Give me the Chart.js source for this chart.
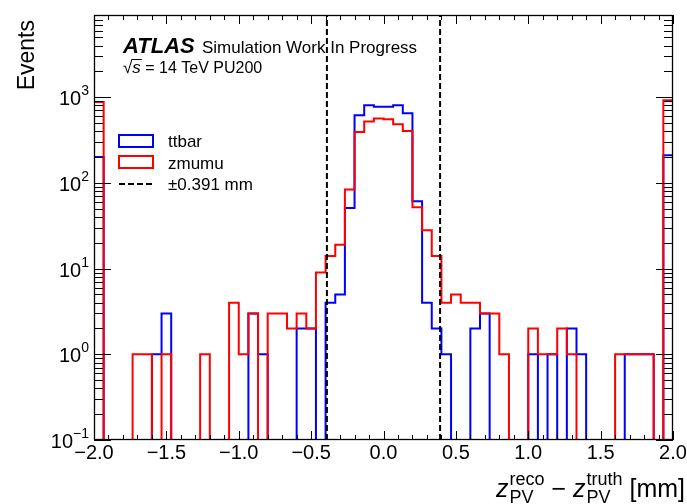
<!DOCTYPE html>
<html>
<head>
<meta charset="utf-8">
<script src="https://cdn.jsdelivr.net/npm/chart.js@4.4.0/dist/chart.umd.min.js"></script>
<style>
  body { margin: 0; background: #fff; }
  canvas { display: block; }
</style>
</head>
<body>
<canvas id="vtxChart" width="687" height="504"></canvas>
<script>
// 60 bins of 1/15 mm between -2 and 2 mm, first/last bins hold the tails
const xMin = -2;
const xMax = 2;
const yAxisMin = 0.1;
const yAxisMax = 9100;

const ttbarCounts = [
  200, 0, 0, 0, 0, 0, 1, 3, 0, 0,
  0, 0, 0, 0, 0, 0, 3, 1, 0, 0,
  0, 2, 2, 0, 4, 5, 51, 615, 804, 776,
  776, 804, 649, 61, 4, 2, 1, 0, 0, 2,
  3, 0, 0, 0, 0, 1, 0, 1, 0, 2,
  1, 0, 0, 0, 0, 1, 1, 1, 0, 210,
];

const zmumuCounts = [
  880, 0, 0, 0, 1, 1, 0, 1, 0, 0,
  0, 1, 0, 0, 4, 1, 3, 0, 3, 3,
  2, 3, 2, 9, 14, 19, 84, 393, 519, 563,
  552, 483, 403, 52, 28, 14, 4, 5, 4, 4,
  3, 3, 1, 0, 0, 2, 1, 1, 2, 1,
  0, 0, 0, 0, 1, 1, 1, 1, 0, 920,
];

const cutValue = 0.391;

const xTickValues = [-2, -1.5, -1, -0.5, 0, 0.5, 1, 1.5, 2];
const xTickLabels = ["−2.0", "−1.5", "−1.0", "−0.5", "0.0", "0.5", "1.0", "1.5", "2.0"];
const yTickExponents = [-1, 0, 1, 2, 3];
const yTickExpLabels = ["−1", "0", "1", "2", "3"];

const legendLabels = ["ttbar", "zmumu", "±0.391 mm"];

const FONT = "'Liberation Sans', Arial, sans-serif";
const FLOOR = 1e-3; // empty bins drop below the axis

// step outline points: one point per bin left edge
function histPoints(counts) {
  const w = (xMax - xMin) / counts.length;
  const pts = [{ x: xMin, y: FLOOR }];
  counts.forEach((c, i) => pts.push({ x: xMin + i * w, y: c > 0 ? c : FLOOR }));
  pts.push({ x: xMax, y: FLOOR });
  return pts;
}

function drawXTitle(ctx, right, base) {
  const main = "25px " + FONT;
  const mainIt = "italic 25px " + FONT;
  const small = "18px " + FONT;
  const pieces = [
    { t: "z", f: mainIt },
    { sub: "PV", sup: "reco" },
    { t: " − ", f: main },
    { t: "z", f: mainIt },
    { sub: "PV", sup: "truth" },
    { t: " [mm]", f: main },
  ];
  const widthOf = (p) => {
    if (p.t) { ctx.font = p.f; return ctx.measureText(p.t).width; }
    ctx.font = small;
    return Math.max(ctx.measureText(p.sub).width, ctx.measureText(p.sup).width) + 1;
  };
  let total = 0;
  pieces.forEach((p) => (total += widthOf(p)));
  let x = right - total;
  ctx.textAlign = "left";
  pieces.forEach((p) => {
    const w = widthOf(p);
    if (p.t) {
      ctx.font = p.f;
      ctx.fillText(p.t, x, base);
    } else {
      ctx.font = small;
      ctx.fillText(p.sub, x + 1, base + 6);
      ctx.fillText(p.sup, x + 1, base - 12);
    }
    x += w;
  });
}

const frameAndLabels = {
  id: "frameAndLabels",
  afterDatasetsDraw(chart) {
    const { ctx, chartArea: a, scales } = chart;
    const x = scales.x;
    const y = scales.y;
    ctx.save();
    ctx.fillStyle = "#000";
    ctx.strokeStyle = "#000";
    ctx.lineWidth = 1;
    ctx.setLineDash([]);

    // inward ticks on all four sides
    ctx.beginPath();
    for (let i = 0; i <= 40; i++) {
      const px = Math.round(x.getPixelForValue(xMin + i * 0.1)) + 0.5;
      const len = i % 5 === 0 ? 9 : 5;
      ctx.moveTo(px, a.bottom); ctx.lineTo(px, a.bottom - len);
      ctx.moveTo(px, a.top); ctx.lineTo(px, a.top + len);
    }
    for (let d = -1; d <= 3; d++) {
      for (let k = 1; k <= 9; k++) {
        const v = k * Math.pow(10, d);
        if (v > yAxisMax) break;
        const py = Math.round(y.getPixelForValue(v)) + 0.5;
        const len = k === 1 ? 17 : 9;
        ctx.moveTo(a.left, py); ctx.lineTo(a.left + len, py);
        ctx.moveTo(a.right, py); ctx.lineTo(a.right - len, py);
      }
    }
    ctx.stroke();
    ctx.lineWidth = 1.3;
    ctx.strokeRect(a.left + 0.5, a.top + 0.5, a.right - a.left - 1, a.bottom - a.top - 1);

    // x tick labels
    ctx.font = "20px " + FONT;
    ctx.textAlign = "center";
    ctx.textBaseline = "alphabetic";
    xTickValues.forEach((v, i) => {
      ctx.fillText(xTickLabels[i], x.getPixelForValue(v), 459);
    });

    // y tick labels 10^n
    yTickExponents.forEach((n, i) => {
      const py = y.getPixelForValue(Math.pow(10, n));
      ctx.font = "14px " + FONT;
      const ew = ctx.measureText(yTickExpLabels[i]).width;
      ctx.font = "20px " + FONT;
      const bw = ctx.measureText("10").width;
      const end = 89;
      ctx.textAlign = "left";
      ctx.fillText("10", end - ew - bw, py + 8);
      ctx.font = "14px " + FONT;
      ctx.fillText(yTickExpLabels[i], end - ew, py - 2);
    });

    // axis titles
    ctx.save();
    ctx.translate(34, 20);
    ctx.rotate(-Math.PI / 2);
    ctx.font = "23px " + FONT;
    ctx.textAlign = "right";
    ctx.fillText("Events", 0, 0);
    ctx.restore();
    drawXTitle(ctx, 685, 497);

    // ATLAS label
    ctx.textAlign = "left";
    ctx.font = "italic bold 22px " + FONT;
    ctx.fillText("ATLAS", 123, 53);
    ctx.font = "17px " + FONT;
    ctx.fillText("Simulation Work In Progress", 202, 53);
    ctx.fillText("√", 123, 73);
    const rx = 123 + ctx.measureText("√").width;
    ctx.font = "italic 17px " + FONT;
    ctx.fillText("s", rx, 73);
    const sw = ctx.measureText("s").width;
    ctx.beginPath();
    ctx.lineWidth = 1;
    ctx.moveTo(rx - 1, 59.5);
    ctx.lineTo(rx + sw + 1, 59.5);
    ctx.stroke();
    ctx.font = "16px " + FONT;
    ctx.fillText(" = 14 TeV PU200", rx + sw, 73);

    // legend
    const colors = ["#0000ff", "#ff0000"];
    ctx.lineWidth = 2;
    colors.forEach((c, i) => {
      ctx.strokeStyle = c;
      ctx.strokeRect(119, 135 + i * 21, 34, 12);
    });
    ctx.strokeStyle = "#000";
    ctx.setLineDash([6, 3]);
    ctx.beginPath();
    ctx.moveTo(119, 184);
    ctx.lineTo(154, 184);
    ctx.stroke();
    ctx.setLineDash([]);
    ctx.font = "17px " + FONT;
    legendLabels.forEach((t, i) => {
      ctx.fillText(t, 168, 147 + i * 21.5);
    });
    ctx.restore();
  },
};

const stepStyle = {
  borderWidth: 2,
  stepped: "before",
  pointRadius: 0,
  fill: false,
  tension: 0,
};

new Chart(document.getElementById("vtxChart"), {
  type: "line",
  data: {
    datasets: [
      { label: "zmumu", data: histPoints(zmumuCounts), borderColor: "#ff0000", order: 1, ...stepStyle },
      { label: "ttbar", data: histPoints(ttbarCounts), borderColor: "#0000ff", order: 2, ...stepStyle },
      {
        label: "-cut",
        data: [{ x: -cutValue, y: yAxisMin }, { x: -cutValue, y: yAxisMax }],
        borderColor: "#000", borderWidth: 2, borderDash: [6, 3], pointRadius: 0, order: 0,
      },
      {
        label: "+cut",
        data: [{ x: cutValue, y: yAxisMin }, { x: cutValue, y: yAxisMax }],
        borderColor: "#000", borderWidth: 2, borderDash: [6, 3], pointRadius: 0, order: 0,
      },
    ],
  },
  options: {
    responsive: false,
    animation: false,
    devicePixelRatio: 1,
    layout: { padding: { left: 94, right: 14, top: 15, bottom: 64 } },
    plugins: { legend: { display: false }, tooltip: { enabled: false } },
    scales: {
      x: { type: "linear", min: xMin, max: xMax, display: false },
      y: { type: "logarithmic", min: yAxisMin, max: yAxisMax, display: false },
    },
  },
  plugins: [frameAndLabels],
});
</script>
</body>
</html>
